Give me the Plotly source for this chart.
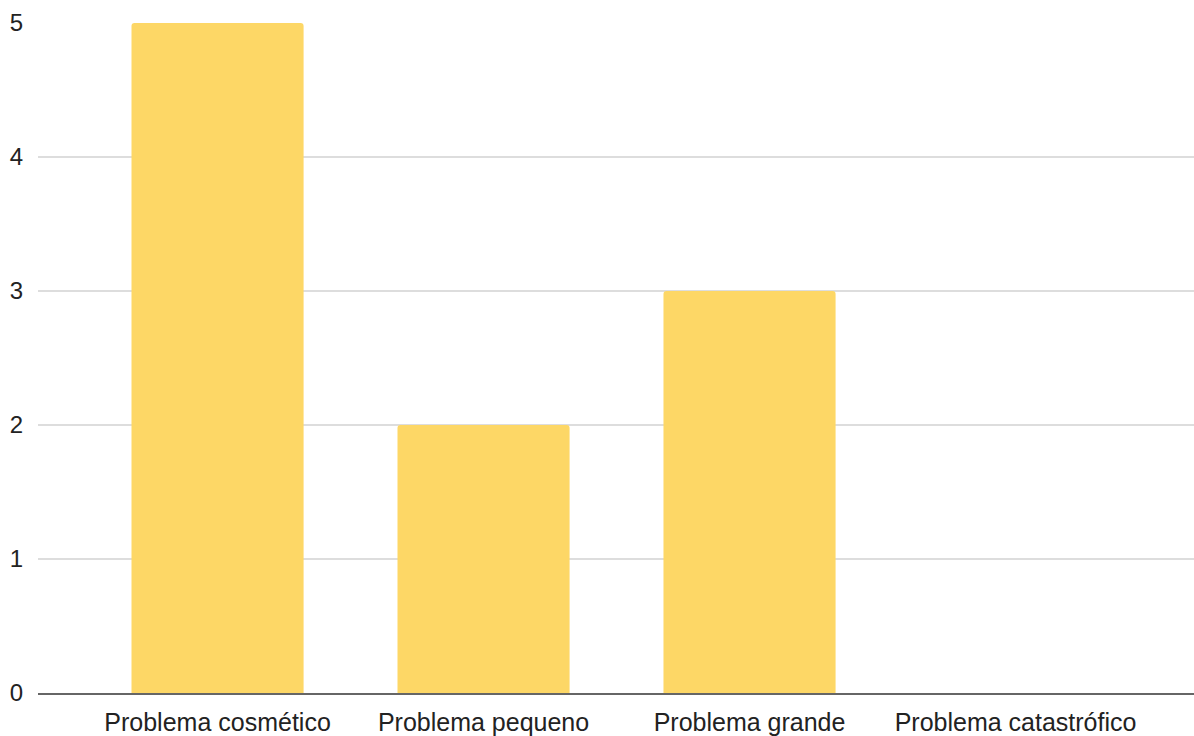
import plotly.graph_objects as go

categories = ["Problema cosmético", "Problema pequeno", "Problema grande", "Problema catastrófico"]
values = [5, 2, 3, 0]
y_ticks = [0, 1, 2, 3, 4, 5]

fig = go.Figure(go.Bar(
    x=list(range(len(categories))),
    y=values,
    marker=dict(color="#fdd766", line=dict(width=0)),
    width=0.647,
))

fig.update_layout(
    width=1194, height=736,
    margin=dict(l=38, r=0, t=23, b=41),
    paper_bgcolor="white", plot_bgcolor="white",
    barcornerradius=3,
    showlegend=False,
    font=dict(family="Liberation Sans, Arial, sans-serif", color="#222222"),
)
fig.update_xaxes(
    tickmode="array", tickvals=list(range(len(categories))), ticktext=categories,
    range=[-0.675, 3.671],
    showgrid=False, zeroline=False,
    showline=True, linecolor="#666666", linewidth=2,
    ticks="", ticklabelstandoff=6,
    tickfont=dict(size=25, color="#222222"),
)
fig.update_yaxes(
    range=[0, 5], tickvals=y_ticks,
    showgrid=True, gridcolor="#dddddd", gridwidth=2,
    zeroline=False, showline=False, ticks="",
    ticklabelstandoff=14,
    tickfont=dict(size=24, color="#222222"),
)

fig.write_html("out.html")
